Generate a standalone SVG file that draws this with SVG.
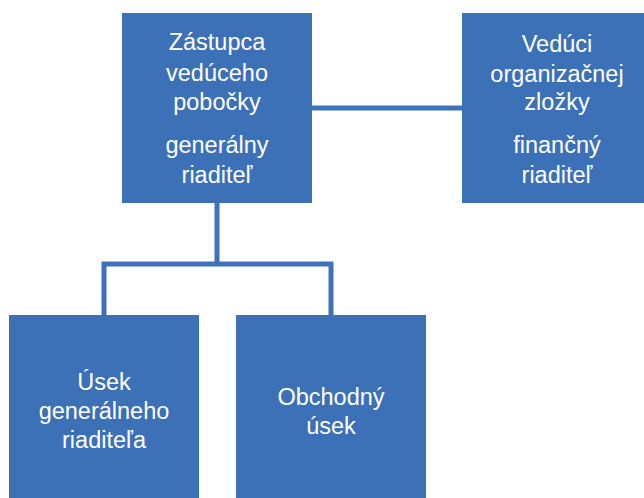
<svg xmlns="http://www.w3.org/2000/svg" width="644" height="498" viewBox="0 0 644 498">
<style>
.box{fill:#3c71b7}
.t{fill:#ffffff;font-family:"Liberation Sans",Arial,sans-serif;font-size:23.5px;text-anchor:middle}
.c{fill:none;stroke:#3f73b9;stroke-width:5}
</style>
<rect width="644" height="498" fill="#ffffff"/>
<g id="connectors">
<line class="c" x1="312" y1="108" x2="462" y2="108"/>
<polyline class="c" points="217,203 217,264"/>
<polyline class="c" points="104,315 104,264 331,264 331,315"/>
</g>
<g id="node-zastupca">
<rect class="box" x="122" y="13" width="190" height="190"/>
<text class="t" x="217" y="50">Zástupca</text>
<text class="t" x="217" y="81">vedúceho</text>
<text class="t" x="217" y="110">pobočky</text>
<text class="t" x="217" y="153">generálny</text>
<text class="t" x="217" y="183">riaditeľ</text>
</g>
<g id="node-veduci">
<rect class="box" x="462" y="13" width="190" height="190"/>
<text class="t" x="557" y="52">Vedúci</text>
<text class="t" x="557" y="82">organizačnej</text>
<text class="t" x="557" y="110">zložky</text>
<text class="t" x="557" y="153">finančný</text>
<text class="t" x="557" y="183">riaditeľ</text>
</g>
<g id="node-usek-gr">
<rect class="box" x="9" y="315" width="190" height="190"/>
<text class="t" x="104" y="390">Úsek</text>
<text class="t" x="104" y="419">generálneho</text>
<text class="t" x="104" y="448">riaditeľa</text>
</g>
<g id="node-obchodny">
<rect class="box" x="236" y="315" width="190" height="190"/>
<text class="t" x="331" y="405">Obchodný</text>
<text class="t" x="331" y="434">úsek</text>
</g>
</svg>
